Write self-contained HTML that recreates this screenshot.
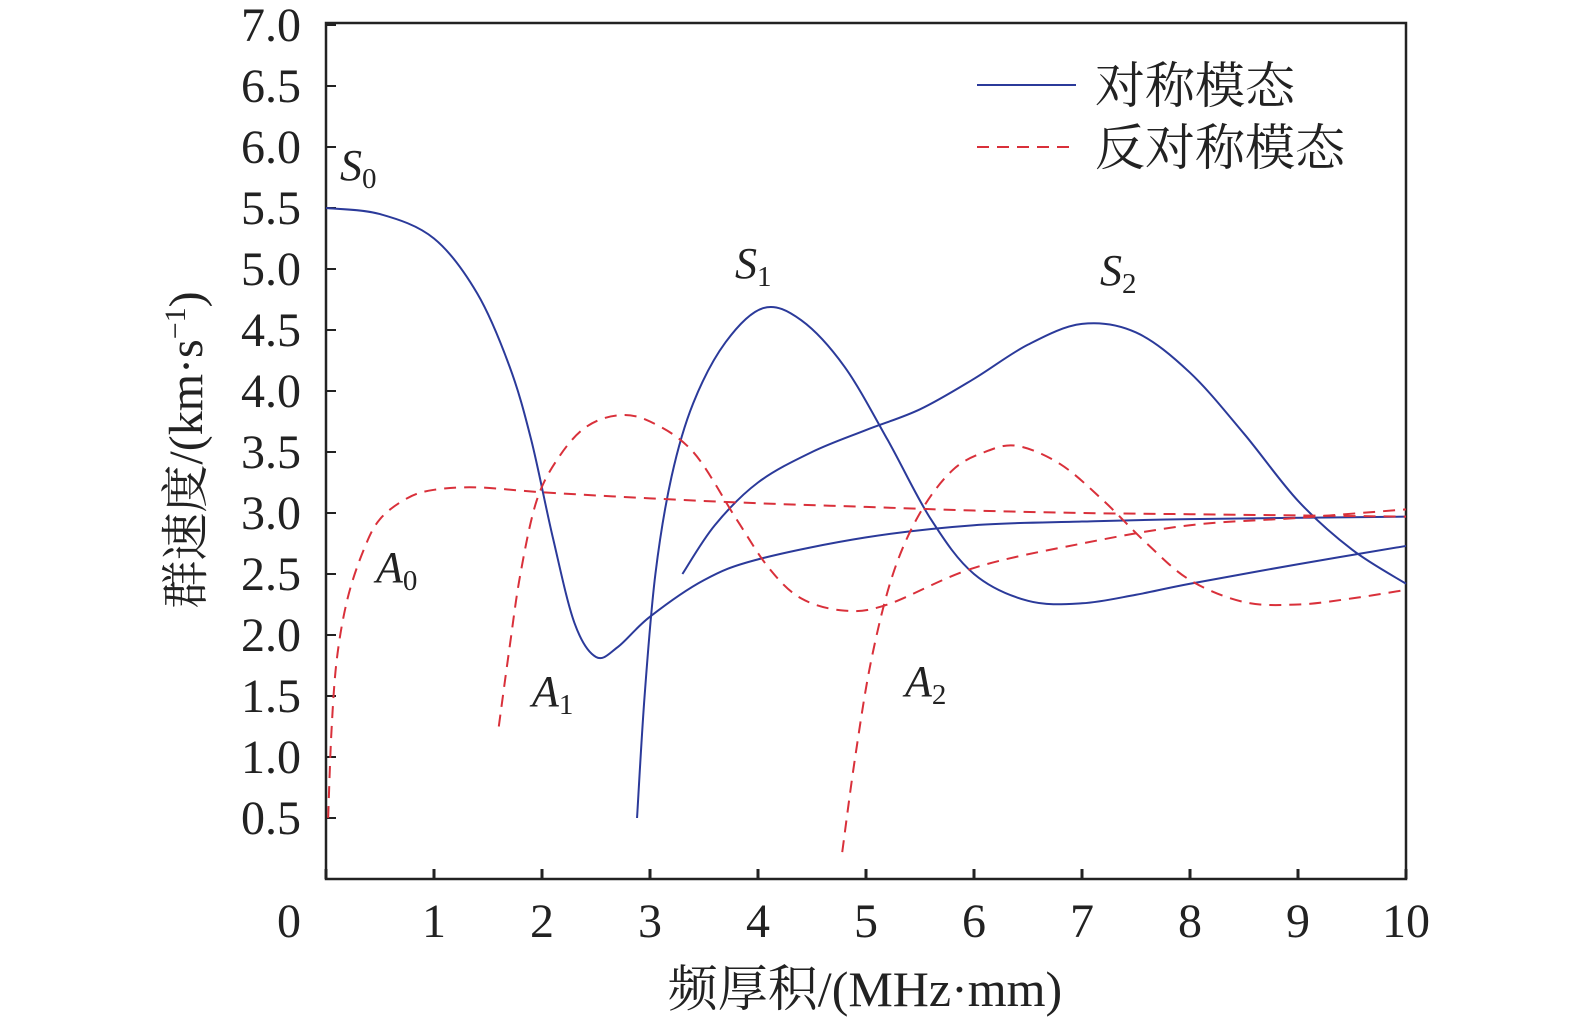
<!DOCTYPE html>
<html><head><meta charset="utf-8"><style>
body{margin:0;background:#fff}
svg text{font-family:"Liberation Serif","Noto Serif CJK SC",serif;fill:#222}
</style></head><body>
<svg id="chart" width="1575" height="1026" xmlns="http://www.w3.org/2000/svg">
<g id="axes"></g>
<g id="curves"></g>
<g font-style="italic" font-size="44">
<text x="340" y="180">S<tspan font-size="29" font-style="normal" dy="8">0</tspan></text>
<text x="735" y="278">S<tspan font-size="29" font-style="normal" dy="8">1</tspan></text>
<text x="1100" y="285">S<tspan font-size="29" font-style="normal" dy="8">2</tspan></text>
<text x="376" y="582">A<tspan font-size="29" font-style="normal" dy="8">0</tspan></text>
<text x="532" y="706">A<tspan font-size="29" font-style="normal" dy="8">1</tspan></text>
<text x="905" y="696">A<tspan font-size="29" font-style="normal" dy="8">2</tspan></text>
</g>
<g font-size="50">
<line x1="977" y1="85" x2="1076" y2="85" stroke="#2b3a9a" stroke-width="2"/>
<text x="1095" y="103">对称模态</text>
<line x1="977" y1="147" x2="1076" y2="147" stroke="#d9303a" stroke-width="2" stroke-dasharray="12,8"/>
<text x="1095" y="165">反对称模态</text>
</g>
<text x="865" y="1006" text-anchor="middle" font-size="50">频厚积/(MHz·mm)</text>
<text transform="translate(202,450) rotate(-90)" text-anchor="middle" font-size="48">群速度/(km·s<tspan font-size="30" dy="-17">−1</tspan><tspan dy="17">)</tspan></text>
</svg>
<script>
const xTicks=[0,1,2,3,4,5,6,7,8,9,10];
const yTicks=[0.5,1.0,1.5,2.0,2.5,3.0,3.5,4.0,4.5,5.0,5.5,6.0,6.5,7.0];
const s0=[[0,5.5],[0.5,5.45],[1,5.25],[1.4,4.8],[1.7,4.2],[1.9,3.6],[2.1,2.8],[2.3,2.1],[2.5,1.82],[2.7,1.9],[3,2.15],[3.5,2.45],[4,2.62],[5,2.8],[6,2.9],[7,2.93],[8,2.95],[10,2.97]];
const s1=[[2.88,0.5],[2.95,1.5],[3.05,2.5],[3.2,3.3],[3.4,3.9],[3.7,4.4],[4.05,4.68],[4.4,4.58],[4.8,4.2],[5.2,3.6],[5.6,2.95],[6,2.5],[6.5,2.28],[7,2.26],[7.5,2.33],[8,2.42],[9,2.58],[10,2.73]];
const s2=[[3.3,2.5],[3.6,2.9],[4,3.25],[4.5,3.5],[5,3.68],[5.5,3.85],[6,4.1],[6.5,4.38],[7,4.55],[7.5,4.48],[8,4.15],[8.5,3.65],[9,3.1],[9.5,2.7],[10,2.42]];
const a0=[[0.02,0.5],[0.05,1.2],[0.1,1.8],[0.2,2.3],[0.35,2.7],[0.5,2.95],[0.75,3.12],[1,3.19],[1.4,3.21],[2,3.17],[3,3.12],[4,3.08],[5,3.05],[6,3.02],[7,3.0],[8,2.99],[9,2.98],[10,2.97]];
const a1=[[1.6,1.25],[1.7,1.9],[1.8,2.5],[1.95,3.1],[2.15,3.45],[2.4,3.7],[2.7,3.8],[3,3.75],[3.4,3.5],[3.8,2.95],[4.1,2.55],[4.4,2.3],[4.8,2.2],[5.2,2.25],[6,2.55],[7,2.75],[8,2.9],[9,2.96],[10,3.03]];
const a2=[[4.78,0.22],[4.9,1.0],[5.05,1.8],[5.25,2.5],[5.5,3.0],[5.8,3.35],[6.1,3.5],[6.4,3.55],[6.8,3.4],[7.2,3.1],[7.6,2.75],[8,2.45],[8.5,2.27],[9,2.25],[9.5,2.3],[10,2.37]];
const NS="http://www.w3.org/2000/svg";
const X=v=>326+v*108, Y=v=>879-v*122;
const axes=document.getElementById('axes'), curves=document.getElementById('curves');
function mk(t,a,p){const e=document.createElementNS(NS,t);for(const k in a)e.setAttribute(k,a[k]);p.appendChild(e);return e;}
const fr=mk('rect',{x:326,y:Y(7.0)-2,width:1080,height:879-Y(7.0)+2,fill:'none',stroke:'#222','stroke-width':2.5},axes);


xTicks.forEach(v=>{
 const l=mk('line',{x1:X(v),x2:X(v),y1:879,y2:869,stroke:'#222','stroke-width':3},axes);
 
 
 const t=mk('text',{x:X(v)-(v===0?37:0),y:937,'text-anchor':'middle','font-size':48},axes);
 t.textContent=v;
 
 
});
yTicks.forEach(v=>{
 const l=mk('line',{x1:326,x2:336,y1:Y(v),y2:Y(v),stroke:'#222','stroke-width':2},axes);
 
 
 const t=mk('text',{x:301,y:Y(v)+16,'text-anchor':'end','font-size':48},axes);
 t.textContent=v.toFixed(1);
 
 
});
function path(pts){
 const p=pts.map(d=>[X(d[0]),Y(d[1])]);
 let s='M'+p[0][0]+','+p[0][1];
 for(let i=0;i<p.length-1;i++){
  const p0=p[Math.max(0,i-1)],p1=p[i],p2=p[i+1],p3=p[Math.min(p.length-1,i+2)];
  s+=' C'+(p1[0]+(p2[0]-p0[0])/6)+','+(p1[1]+(p2[1]-p0[1])/6)+' '+(p2[0]-(p3[0]-p1[0])/6)+','+(p2[1]-(p3[1]-p1[1])/6)+' '+p2[0]+','+p2[1];
 }
 return s;
}
[['s0',s0],['s1',s1],['s2',s2]].forEach(([n,d])=>{
 const e=mk('path',{d:path(d),fill:'none',stroke:'#2b3a9a','stroke-width':2},curves);
 
 
});
[['a0',a0],['a1',a1],['a2',a2]].forEach(([n,d])=>{
 const e=mk('path',{d:path(d),fill:'none',stroke:'#d9303a','stroke-width':2,'stroke-dasharray':'12,8'},curves);
 
 
});
</script>
</body></html>
